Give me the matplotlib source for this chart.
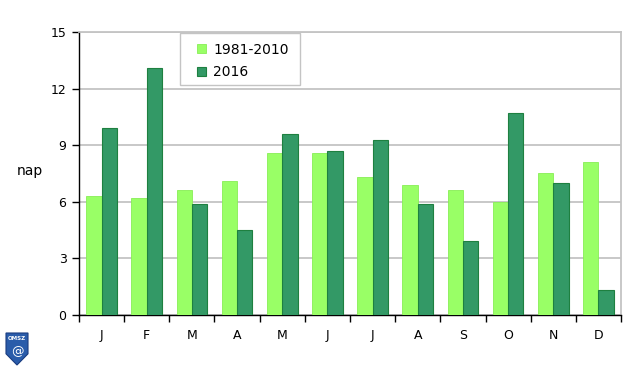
import matplotlib
matplotlib.use("Agg")
import matplotlib.pyplot as plt
import numpy as np
from matplotlib.patches import Rectangle, Polygon

months = ["J", "F", "M", "A", "M", "J", "J", "A", "S", "O", "N", "D"]
normal = [6.3, 6.2, 6.6, 7.1, 8.6, 8.6, 7.3, 6.9, 6.6, 6.0, 7.5, 8.1]
y2016 = [9.9, 13.1, 5.9, 4.5, 9.6, 8.7, 9.3, 5.9, 3.9, 10.7, 7.0, 1.35]
yticks = [0, 3, 6, 9, 12, 15]

W, H = 640, 371
plt.rcParams['font.family'] = ['DejaVu Sans']
fig = plt.figure(figsize=(6.4, 3.71), dpi=100)
ax = fig.add_axes([0.1234, 0.151, 0.847, 0.7627])

x = np.arange(len(months))
w = 0.34
ax.bar(x - w/2, normal, w, color="#99FF66", edgecolor="#88EE55", linewidth=0.6,
       label="1981-2010", zorder=3)
ax.bar(x + w/2, y2016, w, color="#339966", edgecolor="#1E8040", linewidth=0.8,
       label="2016", zorder=3)

ax.set_xlim(-0.5, len(months) - 0.5)
ax.set_ylim(0, 15)
ax.set_yticks(yticks)
ax.set_yticklabels([str(v) for v in yticks], fontsize=9)
ax.yaxis.grid(True, color="#C4C4C4", linewidth=1.3, zorder=0)
ax.set_axisbelow(True)

ax.set_xticks(np.arange(-0.5, len(months), 1.0))
ax.set_xticklabels([])
ax.set_xticks(x, minor=True)
ax.set_xticklabels(months, minor=True, fontsize=9)
ax.tick_params(axis="x", which="major", length=5, direction="out", width=1)
ax.tick_params(axis="x", which="minor", length=0, pad=10)
ax.tick_params(axis="y", length=5, direction="out", width=1, pad=4)

for s in ["top", "right"]:
    ax.spines[s].set_color("#C4C4C4")
    ax.spines[s].set_linewidth(1.3)
for s in ["left", "bottom"]:
    ax.spines[s].set_color("black")
    ax.spines[s].set_linewidth(1.0)

ax.set_ylabel("nap", rotation=0, fontsize=10, va="center")
ax.yaxis.set_label_coords(-0.09, 0.51)

# legend frame drawn separately inside the axes
frame = Rectangle((180 / W, 1 - 85 / H), 120 / W, 52 / H,
                  transform=fig.transFigure, facecolor="white",
                  edgecolor="#C4C4C4", linewidth=1.0, zorder=4, clip_on=False)
ax.add_patch(frame)
leg = ax.legend(loc="upper left", bbox_to_anchor=(197 / W, 1 - 42.5 / H),
                bbox_transform=fig.transFigure, fontsize=10,
                frameon=False, handlelength=0.65, handleheight=0.65,
                borderpad=0, labelspacing=0.62, handletextpad=0.5,
                borderaxespad=0)
leg.set_zorder(6)

# OMSZ logo approximation (shield)
sx0, sx1, sy0, sy1 = 6 / W, 28 / W, 1 - 365 / H, 1 - 333 / H
shield = Polygon([(sx0, sy1), (sx1, sy1), (sx1, sy0 + 0.35 * (sy1 - sy0)),
                  ((sx0 + sx1) / 2, sy0), (sx0, sy0 + 0.35 * (sy1 - sy0))],
                 closed=True, transform=fig.transFigure, facecolor="#2A5CAA",
                 edgecolor="#1A3C80", linewidth=0.8)
fig.patches.append(shield)
fig.text((sx0 + sx1) / 2, 1 - 338 / H, "OMSZ", fontsize=4, color="white",
         ha="center", va="center", weight="bold")
fig.text((sx0 + sx1) / 2, 1 - 352 / H, "@", fontsize=9, color="white",
         ha="center", va="center")

fig.savefig("out.png", dpi=100)
